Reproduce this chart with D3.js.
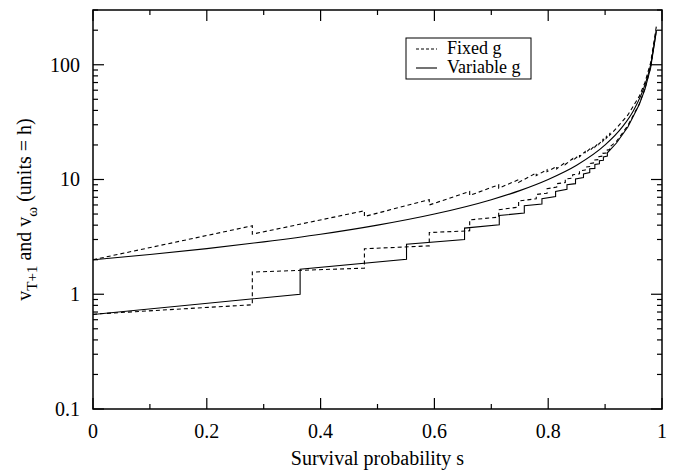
<!DOCTYPE html>
<html>
<head>
<meta charset="utf-8">
<script src="https://cdn.jsdelivr.net/npm/d3@7"></script>
<style>
  body { margin: 0; background: #fff; }
  .frame { fill: none; stroke: #000; stroke-width: 1.5; }
  .tick { stroke: #000; stroke-width: 1.2; }
  .curve { fill: none; stroke: #000; stroke-width: 1.1; }
  .dashed { stroke-dasharray: 4 3; }
</style>
</head>
<body>
<svg id="chart"></svg>
<script>
const width = 678
const height = 470
const margin = { top: 10, right: 16, bottom: 61, left: 93 }
const fontName = 'Liberation Serif'

// x ticks and y tick labels
const xTicks = [0, 0.2, 0.4, 0.6, 0.8, 1]
const xMinorTicks = [0.1, 0.3, 0.5, 0.7, 0.9]
const yTicks = [0.1, 1, 10, 100]

// Variable g, upper curve (smooth)
const varUpperS = [0, 0.1, 0.2, 0.3, 0.4, 0.5, 0.6, 0.7, 0.75, 0.8, 0.85, 0.9, 0.93, 0.95, 0.97, 0.98, 0.99]
const varUpperV = [2, 2.22, 2.5, 2.86, 3.33, 4.0, 5.0, 6.67, 8.0, 10, 13.3, 20, 28.6, 40, 66.7, 100, 200]

// Fixed g, upper curve: value just before each step and just after it
const fixStepS = [0.28, 0.477, 0.591, 0.662, 0.713, 0.748, 0.779, 0.798, 0.815, 0.830, 0.843, 0.855, 0.865, 0.874, 0.882, 0.889, 0.896, 0.902, 0.908]
const fixUpperBefore = [3.95, 5.34, 6.67, 7.87, 9.0, 9.96, 11.4, 12.2, 13.0, 14.1, 15.2, 16.4, 17.5, 18.7, 19.8, 21.0, 22.3, 23.6, 25.0]
const fixUpperAfter = [3.34, 4.76, 6.0, 7.26, 8.4, 9.43, 10.8, 11.7, 12.4, 13.5, 14.6, 15.8, 16.9, 18.0, 19.2, 20.3, 21.6, 22.9, 24.3]
const fixUpperStart = 2.0
const fixUpperTailS = [0.92, 0.94, 0.96, 0.97, 0.98, 0.99]
const fixUpperTailV = [28.0, 36.5, 53, 70, 104, 215]

// Fixed g, lower curve
const fixLowerBefore = [0.81, 1.69, 2.64, 3.57, 4.7, 5.75, 6.8, 7.6, 8.6, 9.4, 10.3, 11.2, 12.1, 13.0, 14.0, 14.9, 16.0, 17.0, 18.2]
const fixLowerAfter = [1.56, 2.49, 3.45, 4.45, 5.45, 6.5, 7.4, 8.3, 9.2, 10.1, 11.0, 11.9, 12.8, 13.8, 14.8, 15.8, 16.9, 18.0, 19.2]
const fixLowerStart = 0.67
const fixLowerTailS = [0.92, 0.94, 0.96, 0.97, 0.98, 0.99]
const fixLowerTailV = [21.5, 29.5, 45.5, 62, 95, 200]

// Variable g, lower curve
const varStepS = [0.364, 0.551, 0.653, 0.714, 0.758, 0.789, 0.813, 0.833, 0.848, 0.862, 0.873, 0.882, 0.890, 0.897, 0.904]
const varLowerBefore = [1.0, 2.02, 3.0, 4.03, 5.1, 6.11, 7.12, 8.2, 9.2, 10.4, 11.5, 12.5, 13.7, 14.7, 16.0]
const varLowerAfter = [1.65, 2.73, 3.77, 4.86, 5.9, 6.8, 7.87, 9.0, 10.1, 11.2, 12.4, 13.5, 14.6, 15.7, 17.1]
const varLowerStart = 0.667
const varLowerTailS = [0.92, 0.94, 0.96, 0.97, 0.98, 0.99]
const varLowerTailV = [20.8, 28.7, 45, 61, 94, 195]

const legendLabels = ['Fixed g', 'Variable g']

function stepSeries(start, stepS, before, after, tailS, tailV) {
    const pts = [{ x: 0, y: start }]
    stepS.forEach((s, i) => {
        pts.push({ x: s, y: before[i] })
        pts.push({ x: s, y: after[i] })
    })
    tailS.forEach((s, i) => pts.push({ x: s, y: tailV[i] }))
    return pts
}

function label(sel) {
    return sel.attr('font-family', fontName).attr('fill', '#000')
}

const chart = d3.select('#chart').attr('width', width).attr('height', height)
const iw = width - margin.left - margin.right
const ih = height - margin.top - margin.bottom
const g = chart.append('g').attr('transform', `translate(${margin.left},${margin.top})`)

const xScale = d3.scaleLinear().domain([0, 1]).range([0, iw])
const yScale = d3.scaleLog().domain([0.1, 300]).range([ih, 0])

const line = d3.line().x(d => xScale(d.x)).y(d => yScale(d.y))
const smooth = d3.line().x(d => xScale(d.x)).y(d => yScale(d.y)).curve(d3.curveMonotoneX)

// clip curves to plot
chart.append('clipPath').attr('id', 'clip')
    .append('rect').attr('width', iw).attr('height', ih)
const curves = g.append('g').attr('clip-path', 'url(#clip)')

curves.append('path').attr('class', 'curve')
    .datum(varUpperS.map((s, i) => ({ x: s, y: varUpperV[i] })))
    .attr('d', smooth)
curves.append('path').attr('class', 'curve dashed')
    .datum(stepSeries(fixUpperStart, fixStepS, fixUpperBefore, fixUpperAfter, fixUpperTailS, fixUpperTailV))
    .attr('d', line)
curves.append('path').attr('class', 'curve dashed')
    .datum(stepSeries(fixLowerStart, fixStepS, fixLowerBefore, fixLowerAfter, fixLowerTailS, fixLowerTailV))
    .attr('d', line)
curves.append('path').attr('class', 'curve')
    .datum(stepSeries(varLowerStart, varStepS, varLowerBefore, varLowerAfter, varLowerTailS, varLowerTailV))
    .attr('d', line)

// inward ticks on all four sides
const majorLen = 11, minorLen = 5
const ticks = g.append('g')
xTicks.concat(xMinorTicks).forEach(t => {
    const len = xTicks.includes(t) ? majorLen : minorLen
    ticks.append('line').attr('class', 'tick')
        .attr('x1', xScale(t)).attr('x2', xScale(t)).attr('y1', ih).attr('y2', ih - len)
    ticks.append('line').attr('class', 'tick')
        .attr('x1', xScale(t)).attr('x2', xScale(t)).attr('y1', 0).attr('y2', len)
})
yScale.ticks().filter(t => t <= 300).forEach(t => {
    const major = yTicks.includes(t)
    const len = major ? majorLen : minorLen
    ticks.append('line').attr('class', 'tick')
        .attr('x1', 0).attr('x2', len).attr('y1', yScale(t)).attr('y2', yScale(t))
    ticks.append('line').attr('class', 'tick')
        .attr('x1', iw).attr('x2', iw - len).attr('y1', yScale(t)).attr('y2', yScale(t))
})

g.append('rect').attr('class', 'frame').attr('width', iw).attr('height', ih)

// tick labels
g.selectAll('.xlab').data(xTicks).enter().append('text')
    .call(label)
    .attr('x', d => xScale(d)).attr('y', ih + 29)
    .attr('text-anchor', 'middle').attr('font-size', 20)
    .text(d => d3.format('~g')(d))
g.selectAll('.ylab').data(yTicks).enter().append('text')
    .call(label)
    .attr('x', -13).attr('y', d => yScale(d) + 7)
    .attr('text-anchor', 'end').attr('font-size', 20)
    .text(d => d3.format('~g')(d))

// axis titles
g.append('text').call(label)
    .attr('x', iw / 2).attr('y', ih + 56)
    .attr('text-anchor', 'middle').attr('font-size', 20)
    .text('Survival probability s')

const yt = chart.append('text').call(label)
    .attr('transform', `translate(31,${margin.top + ih / 2}) rotate(-90)`)
    .attr('text-anchor', 'middle').attr('font-size', 20)
yt.append('tspan').text('v')
yt.append('tspan').attr('dy', 6).attr('font-size', 15).text('T+1')
yt.append('tspan').attr('dy', -6).text(' and v')
yt.append('tspan').attr('dy', 6).attr('font-size', 15).text('ω')
yt.append('tspan').attr('dy', -6).text(' (units = h)')

// legend
const lg = chart.append('g').attr('transform', 'translate(406,38)')
lg.append('rect').attr('width', 125).attr('height', 41)
    .attr('fill', '#fff').attr('stroke', '#000').attr('stroke-width', 1)
legendLabels.forEach((lab, i) => {
    const y = 11 + i * 19
    lg.append('line').attr('class', 'curve')
        .attr('x1', 10).attr('x2', 31).attr('y1', y).attr('y2', y)
        .attr('stroke-dasharray', i === 0 ? '3 2' : null)
    lg.append('text').call(label)
        .attr('x', 41).attr('y', y + 5).attr('font-size', 18).text(lab)
})
</script>
</body>
</html>
